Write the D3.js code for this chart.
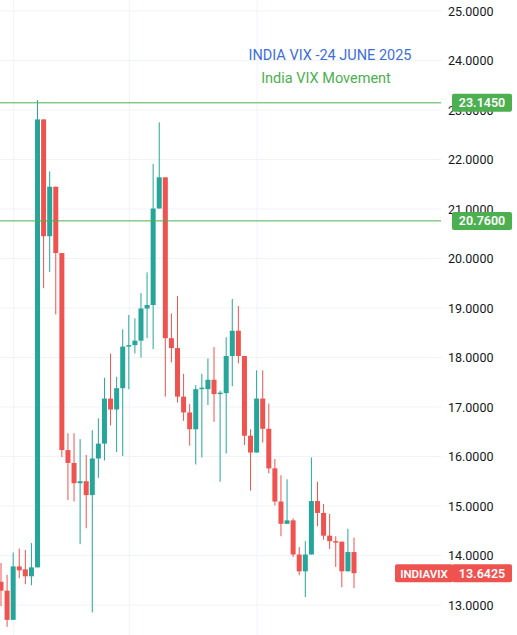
<!DOCTYPE html>
<html><head><meta charset="utf-8">
<script src="https://cdn.jsdelivr.net/npm/d3@7"></script>
<style>body{margin:0;background:#fff}svg{display:block}</style>
</head><body>
<script>
const opens  = [13.47,13.29,12.70,13.78,13.72,13.58,13.76,22.81,20.45,21.45,20.11,16.13,15.87,15.46,15.50,15.22,15.96,16.26,17.17,16.95,17.38,18.22,18.25,18.34,18.99,19.06,21.01,21.64,18.39,18.19,17.21,16.89,16.55,17.36,17.36,17.55,17.28,17.28,18.03,18.54,18.03,16.42,16.08,17.17,16.56,15.76,15.09,14.64,14.71,14.02,13.68,14.02,15.10,14.86,14.40,14.29,14.28,13.68,14.07];
const highs  = [13.85,13.61,14.06,14.14,14.11,14.25,23.20,22.81,21.76,21.45,20.11,16.47,16.47,16.35,16.03,16.53,16.77,17.59,18.08,17.61,18.57,18.86,18.79,19.30,19.72,21.91,22.75,21.64,18.89,19.24,17.67,17.06,17.44,17.67,17.98,18.21,17.33,18.41,19.18,19.04,18.03,16.55,17.74,17.74,17.07,15.95,15.62,15.54,14.75,14.17,14.29,15.98,15.49,15.04,14.84,14.39,14.28,14.54,14.36];
const lows   = [12.98,12.56,12.70,13.54,13.42,13.40,13.76,19.40,19.73,18.87,15.99,15.12,15.09,14.23,14.55,12.85,15.57,15.92,16.63,16.09,16.01,17.36,18.08,18.00,18.39,18.17,21.01,17.21,17.90,17.09,16.72,16.22,15.84,15.98,17.04,16.70,15.49,16.06,17.42,17.88,16.23,15.31,16.08,16.28,15.66,15.01,14.39,14.64,13.97,13.60,13.16,14.02,14.59,14.32,14.13,13.77,13.36,13.68,13.34];
const closes = [13.29,12.70,13.78,13.70,13.58,13.76,22.81,20.45,21.45,20.11,16.13,15.87,15.46,15.50,15.22,15.96,16.26,17.17,16.95,17.38,18.22,18.25,18.34,18.99,19.06,21.01,21.64,18.39,18.19,17.21,16.89,16.55,17.36,17.39,17.55,17.26,17.29,18.03,18.54,18.03,16.42,16.08,17.17,16.56,15.76,15.09,14.64,14.71,14.02,13.68,14.02,15.10,14.86,14.40,14.29,14.28,13.68,14.07,13.6425];
const yTicks = [13,14,15,16,17,18,19,20,21,22,23,24,25];
const levels = [23.145, 20.76];
const vGridIdx = [2,21,42];
const symbol = "INDIAVIX";
const title1 = "INDIA VIX -24 JUNE 2025";
const title2 = "India VIX Movement";

const W=517,H=635, plotR=441;
const svg=d3.select("body").append("svg").attr("width",W).attr("height",H);
const x=d3.scaleLinear().domain([0,58]).range([1,354]);
const y=d3.scaleLinear().domain([13,25]).range([605,11]);
const font="Roboto, 'Noto Sans', sans-serif";
const up="#26a69a", dn="#ef5350", lvl="#4caf50";

const g=svg.append("g");
g.selectAll(".hg").data(yTicks).join("line").attr("x1",0).attr("x2",plotR)
 .attr("y1",d=>y(d)).attr("y2",d=>y(d)).attr("stroke","#f0f3fa");
g.selectAll(".vg").data(vGridIdx).join("line").attr("y1",0).attr("y2",H)
 .attr("x1",d=>x(d)+0.5).attr("x2",d=>x(d)+0.5).attr("stroke","#f0f3fa");

svg.selectAll(".yl").data(yTicks).join("text").attr("x",448).attr("y",d=>y(d)+4.5)
 .attr("font-family",font).attr("font-size",12.5).attr("fill","#131722").text(d=>d.toFixed(4));

const data=opens.map((o,i)=>({i,o,h:highs[i],l:lows[i],c:closes[i]}));
const c=svg.append("g");
c.selectAll(".w").data(data).join("line")
 .attr("x1",d=>x(d.i)).attr("x2",d=>x(d.i)).attr("y1",d=>y(d.h)).attr("y2",d=>y(d.l))
 .attr("stroke",d=>d.c>=d.o?up:dn).attr("stroke-width",1);
c.selectAll(".b").data(data).join("rect")
 .attr("x",d=>x(d.i)-2.5).attr("width",5)
 .attr("y",d=>y(Math.max(d.o,d.c))).attr("height",d=>Math.max(1.5,Math.abs(y(d.o)-y(d.c))))
 .attr("fill",d=>d.c>=d.o?up:dn);

levels.forEach(v=>{
  svg.append("line").attr("x1",0).attr("x2",plotR).attr("y1",y(v)).attr("y2",y(v)).attr("stroke",lvl).attr("stroke-width",1);
  svg.append("rect").attr("x",plotR+11).attr("y",y(v)-9).attr("width",60).attr("height",18).attr("rx",2).attr("fill",lvl);
  svg.append("text").attr("x",plotR+41).attr("y",y(v)+4.5).attr("text-anchor","middle").attr("font-family",font)
   .attr("font-size",12.5).attr("font-weight",600).attr("fill","#fff").text(v.toFixed(4));
});
const last=closes[closes.length-1];
svg.append("rect").attr("x",395).attr("y",y(last)-9).attr("width",58).attr("height",18).attr("rx",2).attr("fill",dn);
svg.append("text").attr("x",424).attr("y",y(last)+4.5).attr("text-anchor","middle").attr("font-family",font)
 .attr("font-size",11.5).attr("font-weight",600).attr("fill","#fff").text(symbol);
svg.append("rect").attr("x",plotR+11).attr("y",y(last)-9).attr("width",60).attr("height",18).attr("rx",2).attr("fill",dn);
svg.append("text").attr("x",plotR+41).attr("y",y(last)+4.5).attr("text-anchor","middle").attr("font-family",font)
 .attr("font-size",12.5).attr("font-weight",600).attr("fill","#fff").text(last.toFixed(4));

svg.append("text").attr("x",330).attr("y",60).attr("text-anchor","middle").attr("font-family",font)
 .attr("font-size",14.5).attr("fill","#3d6ee0").text(title1);
svg.append("text").attr("x",326).attr("y",83).attr("text-anchor","middle").attr("font-family",font)
 .attr("font-size",14.5).attr("fill","#4caf50").text(title2);
</script>
</body></html>
